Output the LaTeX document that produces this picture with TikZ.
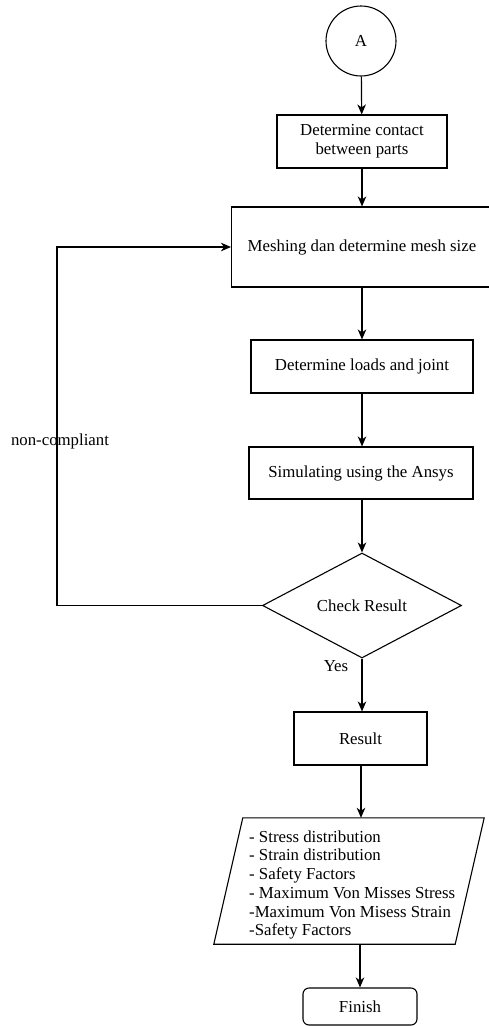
\documentclass[tikz,border=0pt]{standalone}
\usepackage{fontspec}
\setmainfont{Liberation Serif}
\usetikzlibrary{shapes.geometric,arrows.meta}
\begin{document}
\begin{tikzpicture}[x=1pt,y=-1pt,
  every node/.style={font=\fontsize{16.8}{18.7}\selectfont, text=black},
  box/.style={draw=black, line width=1.1pt, rectangle, inner sep=0pt, align=center},
  conn/.style={draw=black, line width=1.2pt, -{Stealth[length=10pt,width=8.5pt,inset=3pt]}},
  plain/.style={draw=black, line width=1.2pt}
]
\useasboundingbox (0,0) rectangle (489,1026);
\node[box, circle, minimum size=70pt] (A) at (361,41) {A};
\node[box, minimum width=170pt, minimum height=53pt] (contact) at (362,141.5) {Determine contact\\between parts};
\node[box, minimum width=275pt, minimum height=80pt, anchor=west] (mesh) at (231,247) {};
\node (meshtext) at (362,247) {Meshing dan determine mesh size};
\node[box, minimum width=222pt, minimum height=53pt] (loads) at (362,366.5) {Determine loads and joint};
\node[box, minimum width=224pt, minimum height=52pt] (sim) at (361,473) {Simulating using the Ansys};
\node[box, diamond, minimum width=199pt, minimum height=105pt] (check) at (362,605.5) {Check Result};
\node[box, minimum width=133pt, minimum height=53pt] (res) at (360.5,738.5) {Result};
\node[minimum width=241pt, minimum height=126pt, inner sep=0pt] (out) at (349,881) {};
\draw[line width=1.1pt] ([xshift=14.5pt]out.north west) -- ([xshift=14.5pt]out.north east)
  -- ([xshift=-14.5pt]out.south east) -- ([xshift=-14.5pt]out.south west) -- cycle;
\node[anchor=west, align=left, inner sep=0pt] (outtext) at (249,885) {- Stress distribution\\- Strain distribution\\- Safety Factors\\- Maximum Von Misses Stress\\-Maximum Von Misess Strain\\-Safety Factors};
\node[box, rounded corners=6pt, minimum width=114pt, minimum height=37pt] (fin) at (360,1006.5) {Finish};

\coordinate (c1) at (57,605.5);
\coordinate (c2) at (57,247);

\draw[conn] (A) -- (contact);
\draw[conn] (contact) -- (contact.south |- mesh.north);
\draw[conn] (loads.north |- mesh.south) -- (loads.north);
\draw[conn] (loads) -- (loads.south |- sim.north);
\draw[conn] (sim.south -| check.north) -- (check.north);
\draw[conn] (check.south) -- (check.south |- res.north);
\draw[conn] ([xshift=0.5pt]res.south) -- ([xshift=0.5pt]res.south |- out.north);
\draw[conn] (out.south -| fin.north) -- (fin.north);
\draw[conn] (check.west) -- (c1) -- (c2) -- (mesh.west);

\node (nc) at (60,441) {non-compliant};
\node (yes) at (336,666) {Yes};
\end{tikzpicture}
\end{document}
